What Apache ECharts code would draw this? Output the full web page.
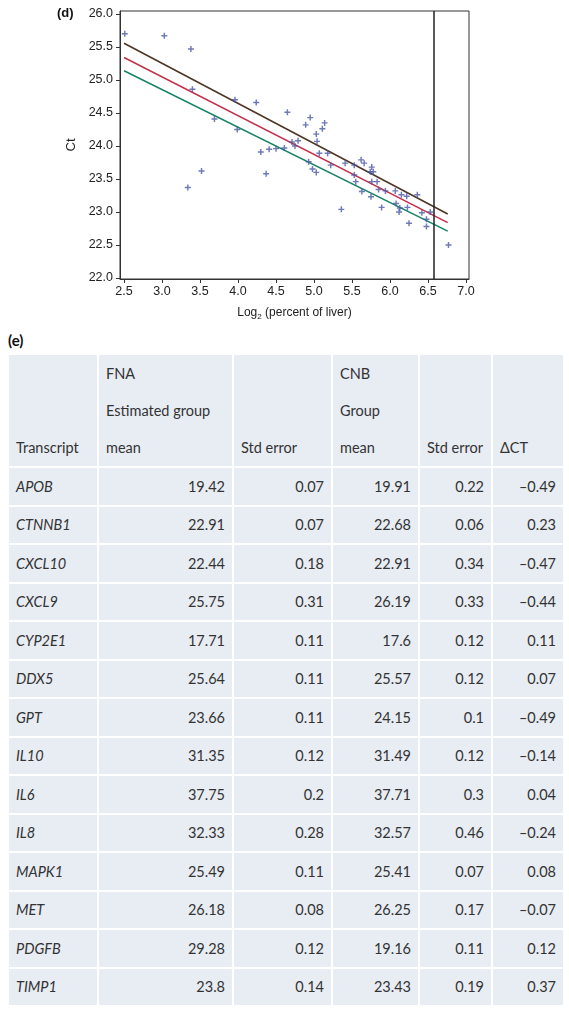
<!DOCTYPE html>
<html>
<head>
<meta charset="utf-8">
<script src="https://cdn.jsdelivr.net/npm/echarts@6/dist/echarts.min.js"></script>
<style>
  html, body { margin: 0; padding: 0; background: #fff; width: 569px; height: 1015px; overflow: hidden; }
  #chart { position: absolute; left: 0; top: 0; width: 569px; height: 330px; }
  #elabel { position: absolute; left: 8px; top: 331px; font-family: Lato, "Open Sans", sans-serif; font-weight: bold; font-size: 15px; color: #111; }
  #tbl { position: absolute; left: 7px; top: 353px; border-collapse: separate; border-spacing: 2px; font-family: Lato, "Open Sans", sans-serif; font-size: 14.5px; color: #333; table-layout: fixed; }
  #tbl td { background: #e8ecf3; padding: 0 7px; box-sizing: border-box; height: 36.5px; white-space: nowrap; overflow: hidden; }
  #tbl tr.h td { height: 110px; vertical-align: bottom; line-height: 37px; padding-bottom: 0; }
  #tbl td.num { text-align: right; }
  #tbl td.gene { font-style: italic; }
</style>
</head>
<body>
<div id="chart"></div>
<div id="elabel">(e)</div>
<table id="tbl"></table>
<script>
// ---- Panel (d) data ----
const pointX = [2.51,3.03,3.38,3.40,3.96,3.69,3.99,3.52,3.34,4.24,4.65,4.95,4.89,5.14,5.11,5.03,5.04,4.71,4.79,4.75,4.61,4.50,4.41,4.30,5.07,5.18,4.37,4.93,4.98,5.03,5.22,5.41,5.53,5.62,5.66,5.76,5.74,5.78,5.53,5.55,5.76,5.83,5.63,5.75,5.85,5.94,6.07,6.15,6.22,6.36,6.08,5.36,5.89,6.13,6.12,6.23,6.42,6.53,6.48,6.25,6.48,6.77];
const pointY = [25.70,25.67,25.47,24.86,24.70,24.41,24.25,23.62,23.37,24.66,24.51,24.43,24.32,24.35,24.26,24.18,24.07,24.06,24.08,24.00,23.97,23.96,23.95,23.91,23.89,23.89,23.58,23.76,23.65,23.60,23.71,23.74,23.71,23.79,23.74,23.68,23.61,23.61,23.56,23.46,23.46,23.46,23.31,23.23,23.34,23.32,23.32,23.26,23.24,23.26,23.13,23.04,23.07,23.06,23.00,23.07,22.99,23.00,22.89,22.83,22.78,22.50];
const lineX = [2.5, 6.76];
const upperY = [25.556, 22.97];
const fitY = [25.34, 22.84];
const lowerY = [25.14, 22.71];
const cutoffX = 6.58;
const xTicks = [2.5,3.0,3.5,4.0,4.5,5.0,5.5,6.0,6.5,7.0];
const yTicks = [22.0,22.5,23.0,23.5,24.0,24.5,25.0,25.5,26.0];

// ---- Panel (e) data ----
const headers = [["Transcript"], ["FNA","Estimated group","mean"], ["Std error"], ["CNB","Group","mean"], ["Std error"], ["\u0394CT"]];
const transcripts = ["APOB","CTNNB1","CXCL10","CXCL9","CYP2E1","DDX5","GPT","IL10","IL6","IL8","MAPK1","MET","PDGFB","TIMP1"];
const fnaMean = ["19.42","22.91","22.44","25.75","17.71","25.64","23.66","31.35","37.75","32.33","25.49","26.18","29.28","23.8"];
const fnaSE = ["0.07","0.07","0.18","0.31","0.11","0.11","0.11","0.12","0.2","0.28","0.11","0.08","0.12","0.14"];
const cnbMean = ["19.91","22.68","22.91","26.19","17.6","25.57","24.15","31.49","37.71","32.57","25.41","26.25","19.16","23.43"];
const cnbSE = ["0.22","0.06","0.34","0.33","0.12","0.12","0.1","0.12","0.3","0.46","0.07","0.17","0.11","0.19"];
const deltaCT = ["\u20130.49","0.23","\u20130.47","\u20130.44","0.11","0.07","\u20130.49","\u20130.14","0.04","\u20130.24","0.08","\u20130.07","0.12","0.37"];

// ---- Build chart ----
const chart = echarts.init(document.getElementById('chart'), null, { renderer: 'canvas' });
const plus = 'path://M0.38,0H0.62V0.38H1V0.62H0.62V1H0.38V0.62H0V0.38H0.38Z';
const axisFont = { fontFamily: 'Liberation Sans, Arial, sans-serif', fontSize: 12.5, color: '#222' };
const pts = pointX.map((x, i) => [x, pointY[i]]);
const mk = ys => lineX.map((x, i) => [x, ys[i]]);

chart.setOption({
  animation: false,
  graphic: [{ type: 'text', left: 57, top: 7, style: { text: '(d)', font: 'bold 13px Liberation Sans, Arial, sans-serif', fill: '#111' } }],
  grid: { left: 120, top: 11, width: 349, height: 268, show: true, borderColor: '#333', borderWidth: 1, backgroundColor: '#fff' },
  xAxis: {
    type: 'value', min: 2.447, max: 7.04,
    name: 'Log{sub|2} (percent of liver)', nameLocation: 'middle', nameGap: 26,
    nameTextStyle: Object.assign({}, axisFont, { fontSize: 12, rich: { sub: { fontSize: 8, verticalAlign: 'bottom', padding: [8, 0, 0, 0], fontFamily: 'Liberation Sans, Arial, sans-serif', color: '#222' } } }),
    axisLine: { show: true, lineStyle: { color: '#333', width: 1 } },
    axisTick: { show: true, length: 4, lineStyle: { color: '#333' }, customValues: xTicks },
    axisLabel: Object.assign({}, axisFont, { margin: 6, customValues: xTicks, formatter: v => v.toFixed(1) }),
    splitLine: { show: false }
  },
  yAxis: {
    type: 'value', min: 21.985, max: 26.045,
    name: 'Ct', nameLocation: 'middle', nameGap: 35, nameRotate: 90,
    nameTextStyle: Object.assign({}, axisFont, { fontSize: 13 }),
    axisLine: { show: true, lineStyle: { color: '#333', width: 1 } },
    axisTick: { show: true, length: 4, lineStyle: { color: '#333' }, customValues: yTicks },
    axisLabel: Object.assign({}, axisFont, { margin: 7, customValues: yTicks, formatter: v => v.toFixed(1) }),
    splitLine: { show: false }
  },
  series: [
    { type: 'line', data: mk(upperY), symbol: 'none', lineStyle: { color: '#4e3422', width: 1.5 }, z: 3 },
    { type: 'line', data: mk(fitY), symbol: 'none', lineStyle: { color: '#c3304b', width: 1.5 }, z: 3 },
    { type: 'line', data: mk(lowerY), symbol: 'none', lineStyle: { color: '#158467', width: 1.5 }, z: 3 },
    { type: 'scatter', data: pts, symbol: plus, symbolSize: 6, itemStyle: { color: '#4a58a6' }, z: 4,
      markLine: { silent: true, symbol: 'none', label: { show: false }, lineStyle: { color: '#222', width: 1.5, type: 'solid' }, data: [{ xAxis: cutoffX }] } }
  ]
});

// ---- Build table ----
const tbl = document.getElementById('tbl');
const widths = [88, 133, 97, 85, 71, 70];
let html = '<colgroup>' + widths.map(w => `<col style="width:${w}px">`).join('') + '</colgroup>';
html += '<tr class="h">' + headers.map((h, i) => `<td style="width:${widths[i]}px">${h.join('<br>')}</td>`).join('') + '</tr>';
transcripts.forEach((t, i) => {
  html += `<tr><td class="gene">${t}</td><td class="num">${fnaMean[i]}</td><td class="num">${fnaSE[i]}</td><td class="num">${cnbMean[i]}</td><td class="num">${cnbSE[i]}</td><td class="num">${deltaCT[i]}</td></tr>`;
});
tbl.innerHTML = html;
</script>
</body>
</html>
